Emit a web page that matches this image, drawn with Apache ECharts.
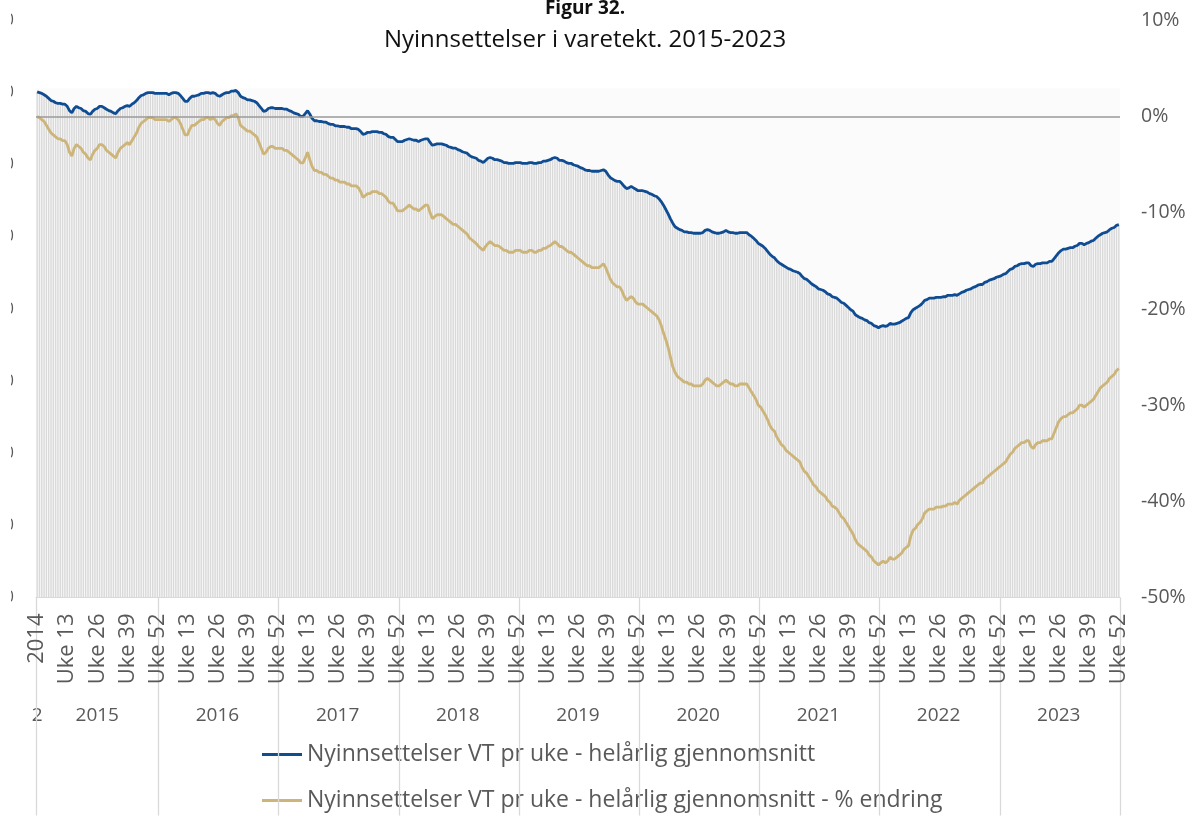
<!DOCTYPE html>
<html>
<head>
<meta charset="utf-8">
<script src="https://cdn.jsdelivr.net/npm/echarts@6/dist/echarts.min.js"></script>
<style>
  html, body { margin: 0; padding: 0; background: #fff; overflow: hidden; }
  /* the frame crops the left value axis so only the tail of each label shows */
  #frame { position: absolute; left: 11px; top: 0; width: 1189px; height: 817px; overflow: hidden; }
  #chart { position: absolute; left: -41px; top: 0; width: 1230px; height: 817px; }
</style>
</head>
<body>
<div id="frame"><div id="chart"></div></div>
<script>
// ---- data -------------------------------------------------------------
const years = ['2014', '2015', '2016', '2017', '2018', '2019', '2020', '2021', '2022', '2023'];
const weeksPerYear = 52;

// weekly new remand custody cases, rolling one-year average (count per week)
const snittPerUke = [
  70.1,
  // 2015
  70.0,69.9,69.7,69.5,69.2,68.9,68.8,68.6,68.5,68.5,68.4,68.4,68.1,67.5,67.2,67.8,68.1,67.9,67.8,67.5,67.4,67.1,67.0,67.4,67.7,67.8,
  68.1,68.1,67.9,67.7,67.5,67.4,67.2,67.1,67.5,67.8,67.9,68.1,68.2,68.1,68.4,68.6,68.9,69.3,69.6,69.7,69.9,70.0,70.0,70.0,69.9,69.9,
  // 2016
  69.9,69.9,69.9,69.9,69.7,69.9,70.0,70.0,69.9,69.6,69.2,68.8,68.8,69.2,69.5,69.5,69.6,69.7,69.9,69.9,70.0,70.0,69.9,70.0,69.9,69.6,
  69.5,69.7,69.9,70.0,70.0,70.2,70.2,70.3,70.0,69.5,69.3,69.2,69.0,69.0,68.9,68.8,68.6,68.2,67.8,67.4,67.5,67.8,67.9,67.9,67.8,67.8,
  // 2017
  67.8,67.8,67.7,67.7,67.5,67.4,67.2,67.1,67.0,66.7,66.7,67.1,67.5,67.0,66.4,66.1,66.1,66.0,66.0,65.9,65.9,65.7,65.6,65.6,65.4,65.4,
  65.3,65.3,65.3,65.2,65.2,65.0,65.0,65.0,64.9,64.6,64.2,64.3,64.5,64.5,64.6,64.6,64.6,64.5,64.5,64.3,64.2,63.9,63.8,63.8,63.5,63.2,
  // 2018
  63.2,63.2,63.4,63.5,63.6,63.5,63.4,63.4,63.2,63.4,63.5,63.6,63.6,63.1,62.7,62.8,62.9,62.9,62.9,62.8,62.7,62.5,62.4,62.3,62.3,62.1,
  62.0,61.8,61.7,61.6,61.3,61.1,61.0,60.9,60.6,60.5,60.3,60.6,60.9,61.0,60.9,60.7,60.7,60.6,60.5,60.3,60.3,60.2,60.2,60.2,60.3,60.3,
  // 2019
  60.3,60.2,60.2,60.2,60.3,60.3,60.2,60.2,60.3,60.3,60.5,60.5,60.6,60.7,60.9,61.0,60.9,60.6,60.6,60.5,60.3,60.2,60.2,60.0,59.9,59.8,
  59.6,59.5,59.3,59.2,59.2,59.1,59.1,59.1,59.1,59.2,59.3,59.1,58.6,58.2,58.0,57.8,57.7,57.7,57.4,57.0,56.7,56.8,57.0,56.8,56.6,56.4,
  // 2020
  56.4,56.4,56.3,56.2,56.0,55.9,55.7,55.6,55.3,54.9,54.4,53.8,53.2,52.5,51.9,51.4,51.2,51.0,50.9,50.7,50.7,50.6,50.6,50.5,50.5,50.5,
  50.5,50.6,50.9,51.0,50.9,50.7,50.6,50.5,50.5,50.6,50.7,50.9,50.7,50.6,50.6,50.5,50.5,50.6,50.6,50.6,50.6,50.3,50.1,49.8,49.5,49.1,
  // 2021
  48.9,48.7,48.4,48.0,47.6,47.3,47.1,46.7,46.4,46.2,46.0,45.8,45.6,45.5,45.3,45.2,45.1,44.9,44.5,44.2,44.1,43.8,43.5,43.3,43.1,42.8,
  42.7,42.6,42.4,42.1,42.0,41.7,41.6,41.5,41.2,40.9,40.8,40.5,40.2,39.9,39.7,39.2,39.0,38.8,38.7,38.5,38.4,38.1,38.0,37.7,37.6,37.4,
  // 2022
  37.6,37.7,37.6,37.7,38.0,37.9,37.9,38.0,38.1,38.3,38.5,38.7,38.8,39.5,39.9,40.1,40.3,40.5,40.8,41.2,41.3,41.5,41.5,41.5,41.6,41.6,
  41.6,41.7,41.7,41.9,41.9,41.9,42.0,41.9,42.1,42.3,42.4,42.6,42.7,42.8,43.0,43.1,43.3,43.4,43.4,43.7,43.8,44.0,44.1,44.2,44.4,44.5,
  // 2023
  44.6,44.8,44.9,45.2,45.5,45.6,45.9,46.0,46.2,46.3,46.3,46.4,46.4,46.0,45.9,46.2,46.3,46.3,46.4,46.4,46.4,46.6,46.6,47.0,47.4,47.8,
  48.1,48.3,48.3,48.4,48.5,48.5,48.7,48.8,49.1,49.1,48.9,49.1,49.2,49.4,49.5,49.8,50.1,50.3,50.5,50.6,50.7,51.0,51.2,51.3,51.6,51.7
];

// the same average as % change from the 2014 level
const endringProsent = [
  0.0,
  // 2015
  -0.1,-0.3,-0.5,-0.9,-1.3,-1.7,-1.9,-2.1,-2.3,-2.3,-2.5,-2.5,-2.9,-3.7,-4.1,-3.3,-2.9,-3.1,-3.3,-3.7,-3.9,-4.3,-4.5,-3.9,-3.5,-3.3,
  -2.9,-2.9,-3.1,-3.5,-3.7,-3.9,-4.1,-4.3,-3.7,-3.3,-3.1,-2.9,-2.7,-2.9,-2.5,-2.1,-1.7,-1.1,-0.7,-0.5,-0.3,-0.1,-0.1,-0.1,-0.3,-0.3,
  // 2016
  -0.3,-0.3,-0.3,-0.3,-0.5,-0.3,-0.1,-0.1,-0.3,-0.7,-1.3,-1.9,-1.9,-1.3,-0.9,-0.9,-0.7,-0.5,-0.3,-0.3,-0.1,-0.1,-0.3,-0.1,-0.3,-0.7,
  -0.9,-0.5,-0.3,-0.1,-0.1,0.1,0.1,0.3,-0.1,-0.9,-1.1,-1.3,-1.5,-1.5,-1.7,-1.9,-2.1,-2.7,-3.3,-3.9,-3.7,-3.3,-3.1,-3.1,-3.3,-3.3,
  // 2017
  -3.3,-3.3,-3.5,-3.5,-3.7,-3.9,-4.1,-4.3,-4.5,-4.8,-4.8,-4.3,-3.7,-4.5,-5.2,-5.6,-5.6,-5.8,-5.8,-6.0,-6.0,-6.2,-6.4,-6.4,-6.6,-6.6,
  -6.8,-6.8,-6.8,-7.0,-7.0,-7.2,-7.2,-7.2,-7.4,-7.8,-8.4,-8.2,-8.0,-8.0,-7.8,-7.8,-7.8,-8.0,-8.0,-8.2,-8.4,-8.8,-9.0,-9.0,-9.4,-9.8,
  // 2018
  -9.8,-9.8,-9.6,-9.4,-9.2,-9.4,-9.6,-9.6,-9.8,-9.6,-9.4,-9.2,-9.2,-10.0,-10.6,-10.4,-10.2,-10.2,-10.2,-10.4,-10.6,-10.8,-11.0,-11.2,-11.2,-11.4,
  -11.6,-11.8,-12.0,-12.2,-12.6,-12.8,-13.0,-13.2,-13.5,-13.7,-13.9,-13.5,-13.2,-13.0,-13.2,-13.4,-13.4,-13.5,-13.7,-13.9,-13.9,-14.1,-14.1,-14.1,-13.9,-13.9,
  // 2019
  -13.9,-14.1,-14.1,-14.1,-13.9,-13.9,-14.1,-14.1,-13.9,-13.9,-13.7,-13.7,-13.5,-13.4,-13.2,-13.0,-13.2,-13.5,-13.5,-13.7,-13.9,-14.1,-14.1,-14.3,-14.5,-14.7,
  -14.9,-15.1,-15.3,-15.5,-15.5,-15.7,-15.7,-15.7,-15.7,-15.5,-15.3,-15.7,-16.3,-16.9,-17.3,-17.5,-17.7,-17.7,-18.1,-18.7,-19.1,-18.9,-18.7,-18.9,-19.3,-19.5,
  // 2020
  -19.5,-19.5,-19.7,-19.9,-20.1,-20.3,-20.5,-20.7,-21.1,-21.7,-22.5,-23.2,-24.0,-25.0,-26.0,-26.6,-27.0,-27.2,-27.4,-27.6,-27.6,-27.8,-27.8,-28.0,-28.0,-28.0,
  -28.0,-27.8,-27.4,-27.2,-27.4,-27.6,-27.8,-28.0,-28.0,-27.8,-27.6,-27.4,-27.6,-27.8,-27.8,-28.0,-28.0,-27.8,-27.8,-27.8,-27.8,-28.2,-28.6,-29.0,-29.4,-30.0,
  // 2021
  -30.2,-30.6,-31.0,-31.5,-32.1,-32.5,-32.7,-33.3,-33.7,-34.1,-34.3,-34.7,-34.9,-35.1,-35.3,-35.5,-35.7,-35.9,-36.5,-36.9,-37.1,-37.5,-37.9,-38.3,-38.5,-38.9,
  -39.1,-39.3,-39.5,-39.9,-40.1,-40.5,-40.6,-40.8,-41.2,-41.6,-41.8,-42.2,-42.6,-43.0,-43.4,-44.0,-44.4,-44.6,-44.8,-45.0,-45.2,-45.6,-45.8,-46.2,-46.4,-46.6,
  // 2022
  -46.4,-46.2,-46.4,-46.2,-45.8,-46.0,-46.0,-45.8,-45.6,-45.4,-45.0,-44.8,-44.6,-43.6,-43.0,-42.8,-42.4,-42.2,-41.8,-41.2,-41.0,-40.8,-40.8,-40.8,-40.6,-40.6,
  -40.6,-40.5,-40.5,-40.3,-40.3,-40.3,-40.1,-40.3,-39.9,-39.7,-39.5,-39.3,-39.1,-38.9,-38.7,-38.5,-38.3,-38.1,-38.1,-37.7,-37.5,-37.3,-37.1,-36.9,-36.7,-36.5,
  // 2023
  -36.3,-36.1,-35.9,-35.5,-35.1,-34.9,-34.5,-34.3,-34.1,-33.9,-33.9,-33.7,-33.7,-34.3,-34.5,-34.1,-33.9,-33.9,-33.7,-33.7,-33.7,-33.5,-33.5,-32.9,-32.3,-31.7,
  -31.4,-31.2,-31.2,-31.0,-30.8,-30.8,-30.6,-30.4,-30.0,-30.0,-30.2,-30.0,-29.8,-29.6,-29.4,-29.0,-28.6,-28.2,-28.0,-27.8,-27.6,-27.2,-27.0,-26.8,-26.4,-26.2
];

const seriesNames = [
  'Nyinnsettelser VT pr uke - helårlig gjennomsnitt',
  'Nyinnsettelser VT pr uke - helårlig gjennomsnitt - % endring'
];

// ---- category axis: one slot for 2014, then 52 weeks per year -----------
const weekLabels = [years[0]];
const yearOfSlot = [years[0]];
years.slice(1).forEach(function (y) {
  for (let w = 1; w <= weeksPerYear; w++) {
    weekLabels.push('Uke ' + w);
    yearOfSlot.push(y);
  }
});

const TEXT = '#595959';
const FONT = 'Open Sans';

const chart = echarts.init(document.getElementById('chart'), null, { renderer: 'canvas' });

chart.setOption({
  animation: false,
  textStyle: { fontFamily: FONT },
  title: {
    text: 'Figur 32.',
    subtext: 'Nyinnsettelser i varetekt. 2015-2023',
    left: 'center',
    top: -1,
    padding: 0,
    itemGap: 7,
    textStyle: { fontFamily: FONT, fontSize: 19, fontWeight: 'bold', color: '#111', lineHeight: 20 },
    subtextStyle: { fontFamily: FONT, fontSize: 24, color: '#111', lineHeight: 28 }
  },
  legend: {
    orient: 'vertical',
    left: 292,
    top: 741,
    padding: 0,
    itemWidth: 40,
    itemHeight: 3,
    itemGap: 19,
    icon: 'rect',
    data: seriesNames,
    textStyle: { fontFamily: FONT, fontSize: 23, color: TEXT, lineHeight: 27 }
  },
  grid: { left: 66, right: 80, top: 20.5, bottom: 219.5 },
  xAxis: [
    {
      type: 'category',
      data: weekLabels,
      boundaryGap: true,
      z: 6,
      axisLine: { show: true, lineStyle: { color: '#d9d9d9', width: 1 } },
      axisTick: {
        show: true,
        length: 218,
        // year separators, drawn before the first week of each year
        interval: function (idx) { return idx === 0 || (idx > 1 && (idx - 1) % weeksPerYear === 0); },
        lineStyle: { color: '#d9d9d9', width: 1.3 }
      },
      axisLabel: {
        interval: 12,
        rotate: 90,
        margin: 16,
        fontSize: 22,
        color: TEXT,
        fontFamily: FONT
      },
      splitLine: { show: false }
    },
    {
      type: 'category',
      data: yearOfSlot,
      position: 'bottom',
      boundaryGap: true,
      axisLine: { show: false },
      axisTick: { show: false },
      axisLabel: {
        interval: function (idx) { return idx === 0 || (idx - 1) % weeksPerYear === 25; },
        margin: 109,
        fontSize: 19,
        color: TEXT,
        fontFamily: FONT,
        formatter: function (v, idx) { return idx === 0 ? v.charAt(0) : v; }
      },
      splitLine: { show: false }
    }
  ],
  yAxis: [
    {
      type: 'value',
      min: 0, max: 80, interval: 10,
      position: 'left',
      axisLine: { show: false },
      axisTick: { show: false },
      splitLine: { show: false },
      axisLabel: { margin: 22, fontSize: 16, color: TEXT, fontFamily: FONT }
    },
    {
      type: 'value',
      min: -50, max: 10, interval: 10,
      position: 'right',
      axisLine: { show: false },
      axisTick: { show: false },
      splitLine: { show: false },
      axisLabel: { margin: 21, fontSize: 19.5, color: TEXT, fontFamily: FONT, formatter: '{value}%' }
    }
  ],
  series: [
    {
      type: 'bar',
      name: 'stolper',
      xAxisIndex: 0,
      yAxisIndex: 0,
      data: snittPerUke,
      barWidth: '62%',
      silent: true,
      itemStyle: { color: '#d9d9d9' },
      emphasis: { disabled: true },
      markArea: {
        silent: true,
        itemStyle: { color: '#fbfbfb' },
        data: [[{ yAxis: 0 }, { yAxis: 70.6 }]]
      },
      z: 1
    },
    {
      type: 'line',
      name: seriesNames[0],
      xAxisIndex: 0,
      yAxisIndex: 0,
      data: snittPerUke,
      showSymbol: false,
      symbol: 'none',
      lineStyle: { color: '#0f4c92', width: 2.8 },
      itemStyle: { color: '#0f4c92' },
      emphasis: { disabled: true },
      z: 4
    },
    {
      type: 'line',
      name: seriesNames[1],
      xAxisIndex: 0,
      yAxisIndex: 1,
      data: endringProsent,
      showSymbol: false,
      symbol: 'none',
      lineStyle: { color: '#cdb479', width: 2.8 },
      itemStyle: { color: '#cdb479' },
      emphasis: { disabled: true },
      markLine: {
        silent: true,
        symbol: ['none', 'none'],
        label: { show: false },
        lineStyle: { color: '#9a9a9a', width: 1.5, type: 'solid' },
        data: [{ yAxis: 0 }]
      },
      z: 3
    }
  ]
});
</script>
</body>
</html>
